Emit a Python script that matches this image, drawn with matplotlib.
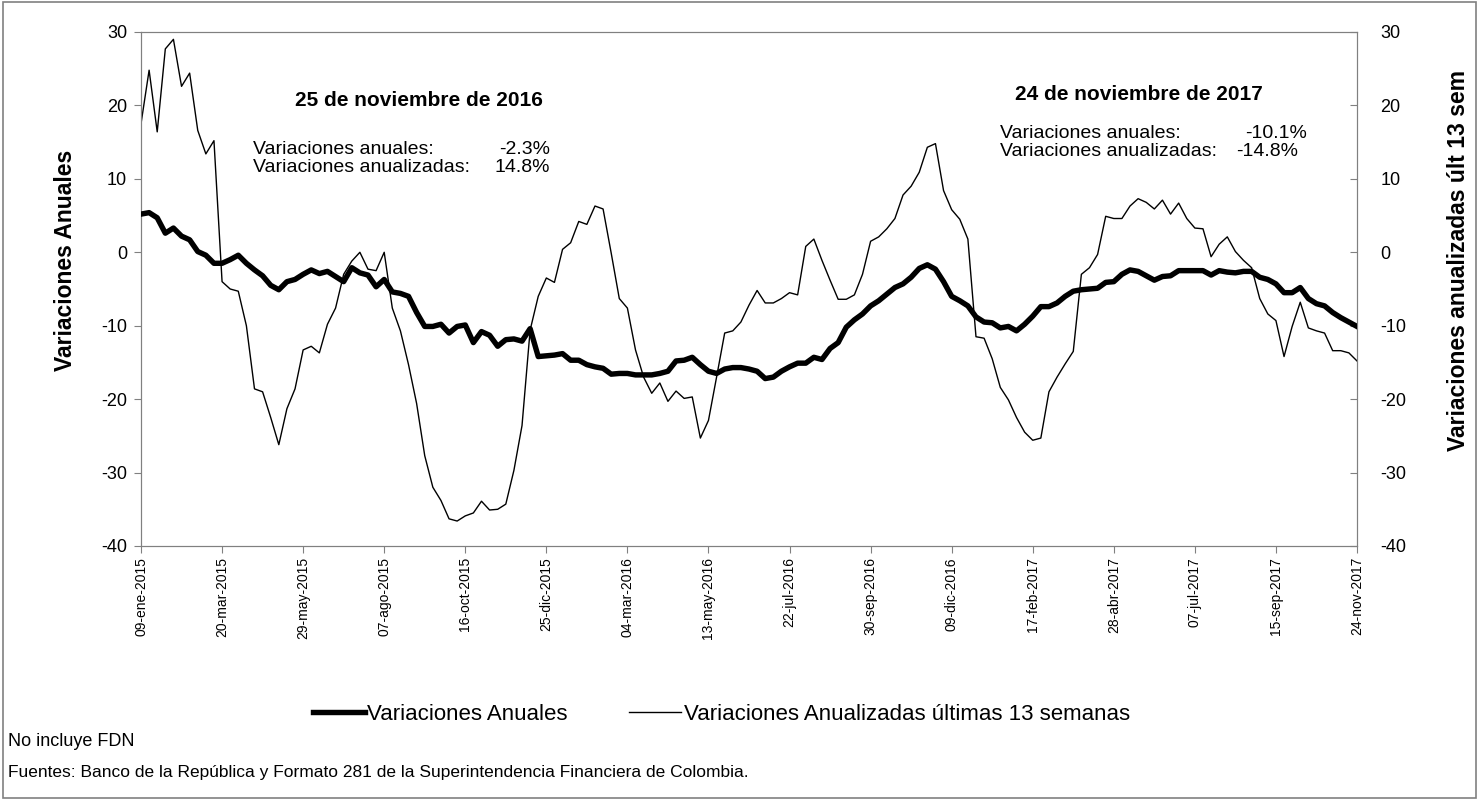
import pandas as pd
import numpy as np
import matplotlib
matplotlib.use('Agg')
import matplotlib.pyplot as plt
from matplotlib.patches import Rectangle

# Series semanales, 09-ene-2015 a 24-nov-2017 (151 semanas)
fecha_inicio = '2015-01-09'

var_anuales = [
    5.2, 5.4, 4.7, 2.6, 3.3, 2.2, 1.7, 0.1, -0.4, -1.5,
    -1.5, -1.0, -0.4, -1.5, -2.4, -3.2, -4.5, -5.1, -4.0, -3.7,
    -3.0, -2.4, -2.9, -2.6, -3.3, -4.0, -2.1, -2.8, -3.1, -4.7,
    -3.7, -5.4, -5.6, -6.0, -8.2, -10.1, -10.1, -9.8, -11.0, -10.1,
    -9.9, -12.3, -10.8, -11.3, -12.8, -11.9, -11.8, -12.1, -10.4, -14.2,
    -14.1, -14.0, -13.8, -14.7, -14.7, -15.3, -15.6, -15.8, -16.6, -16.5,
    -16.5, -16.7, -16.7, -16.7, -16.5, -16.2, -14.8, -14.7, -14.3, -15.3,
    -16.2, -16.5, -15.9, -15.7, -15.7, -15.9, -16.2, -17.2, -17.0, -16.2,
    -15.6, -15.1, -15.1, -14.3, -14.6, -13.1, -12.3, -10.2, -9.2, -8.4,
    -7.3, -6.6, -5.7, -4.8, -4.3, -3.4, -2.2, -1.7, -2.3, -4.0,
    -6.0, -6.6, -7.3, -8.8, -9.5, -9.6, -10.3, -10.1, -10.7, -9.8,
    -8.7, -7.4, -7.4, -6.9, -6.0, -5.3, -5.1, -5.0, -4.9, -4.1,
    -4.0, -3.0, -2.4, -2.6, -3.2, -3.8, -3.3, -3.2, -2.5, -2.5,
    -2.5, -2.5, -3.1, -2.5, -2.7, -2.8, -2.6, -2.6, -3.4, -3.7,
    -4.3, -5.5, -5.5, -4.8, -6.3, -7.0, -7.3, -8.2, -8.9, -9.5,
    -10.1,
]

var_anualizadas = [
    17.5, 24.8, 16.4, 27.7, 29.0, 22.6, 24.4, 16.6, 13.4, 15.2,
    -4.0, -5.0, -5.3, -10.0, -18.6, -19.0, -22.5, -26.2, -21.3, -18.6,
    -13.3, -12.8, -13.7, -9.8, -7.6, -3.0, -1.2, 0.0, -2.3, -2.5,
    0.0, -7.6, -10.7, -15.3, -20.6, -27.7, -32.0, -33.8, -36.3, -36.6,
    -35.9, -35.5, -33.9, -35.1, -35.0, -34.3, -29.7, -23.6, -10.6, -6.0,
    -3.5, -4.1, 0.4, 1.3, 4.2, 3.8, 6.3, 5.9, -0.1, -6.3,
    -7.6, -13.3, -17.0, -19.2, -17.8, -20.3, -18.9, -19.9, -19.7, -25.3,
    -22.9, -17.0, -11.0, -10.7, -9.5, -7.2, -5.2, -6.9, -6.9, -6.3,
    -5.5, -5.8, 0.8, 1.8, -1.1, -3.8, -6.4, -6.4, -5.8, -3.0,
    1.5, 2.1, 3.2, 4.6, 7.8, 9.0, 10.9, 14.3, 14.8, 8.4,
    5.8, 4.5, 1.8, -11.5, -11.7, -14.5, -18.4, -20.1, -22.5, -24.5,
    -25.6, -25.3, -19.0, -17.0, -15.2, -13.5, -3.0, -2.1, -0.3, 4.9,
    4.6, 4.6, 6.3, 7.3, 6.8, 5.9, 7.1, 5.2, 6.7, 4.6,
    3.3, 3.2, -0.6, 1.1, 2.1, 0.1, -1.1, -2.1, -6.3, -8.4,
    -9.3, -14.2, -10.1, -6.8, -10.3, -10.7, -11.0, -13.4, -13.4, -13.7,
    -14.8,
]

etiquetas_x = ['09-ene-2015', '20-mar-2015', '29-may-2015', '07-ago-2015',
               '16-oct-2015', '25-dic-2015', '04-mar-2016', '13-may-2016',
               '22-jul-2016', '30-sep-2016', '09-dic-2016', '17-feb-2017',
               '28-abr-2017', '07-jul-2017', '15-sep-2017', '24-nov-2017']

fechas = pd.date_range(fecha_inicio, periods=len(var_anuales), freq='7D')
ticks_x = fechas[::10]

gris = '#808080'
plt.rcParams['font.family'] = ['Liberation Sans', 'DejaVu Sans']
plt.rcParams['axes.unicode_minus'] = False
narrow = ['Liberation Sans Narrow', 'Liberation Sans', 'DejaVu Sans']

W, H = 1479, 800


def fx(px):
    return px / W


def fy(py):
    return 1 - py / H


fig = plt.figure(figsize=(14.79, 8), dpi=100)
ax = fig.add_axes([fx(141), fy(546), (1357 - 141) / W, (546 - 32) / H])
ax2 = ax.twinx()

l1, = ax.plot(fechas, var_anuales, color='black', lw=3.9, zorder=3)
l2, = ax2.plot(fechas, var_anualizadas, color='black', lw=1.0, zorder=2)

for a in (ax, ax2):
    a.set_ylim(-40, 30)
    a.set_yticks(np.arange(-40, 31, 10))
    a.set_xlim(fechas[0], fechas[-1])
    for s in a.spines.values():
        s.set_color(gris)
ax.set_zorder(ax2.get_zorder() + 1)
ax.patch.set_visible(False)

ax.set_xticks(ticks_x)
ax.set_xticklabels(etiquetas_x, rotation=90, fontsize=10)
ax.tick_params(axis='x', direction='out', length=5, color=gris, pad=3)
ax.tick_params(axis='y', direction='out', length=5, color=gris, labelsize=13, pad=5)
ax2.tick_params(axis='y', direction='in', length=5, color=gris, labelsize=13, pad=17)

# titulos de ejes (centrados un poco por encima del centro del area)
ax.set_ylabel('Variaciones Anuales', fontsize=16.5, fontweight='bold')
ax.yaxis.set_label_coords(-64 / 1216, 0.556)
ax2.set_ylabel('Variaciones anualizadas últ 13 sem', fontsize=16.5, fontweight='bold',
               rotation=90)
ax2.yaxis.set_label_coords(1 + 90 / 1216, 0.556)

# recuadros de texto
fig.text(fx(419), fy(100), '25 de noviembre de 2016', fontsize=15,
         fontweight='bold', ha='center', va='center')
fig.text(fx(253), fy(150), 'Variaciones anuales:', fontsize=14, va='center')
fig.text(fx(550), fy(150), '-2.3%', fontsize=14, va='center', ha='right')
fig.text(fx(253), fy(168), 'Variaciones anualizadas:', fontsize=14, va='center')
fig.text(fx(550), fy(168), '14.8%', fontsize=14, va='center', ha='right')

fig.text(fx(1139), fy(95), '24 de noviembre de 2017', fontsize=15,
         fontweight='bold', ha='center', va='center')
fig.text(fx(1000), fy(133), 'Variaciones anuales:', fontsize=14, va='center')
fig.text(fx(1307), fy(133), '-10.1%', fontsize=14, va='center', ha='right')
fig.text(fx(1000), fy(151), 'Variaciones anualizadas:', fontsize=14, va='center')
fig.text(fx(1298), fy(151), '-14.8%', fontsize=14, va='center', ha='right')

fig.legend([l1, l2], ['Variaciones Anuales', 'Variaciones Anualizadas últimas 13 semanas'],
           loc='center left', bbox_to_anchor=(fx(313), fy(714)), ncol=2,
           frameon=False, borderpad=0, borderaxespad=0,
           handlelength=2.35, handletextpad=0.1, columnspacing=2.75,
           prop={'family': narrow, 'size': 16})

fig.text(fx(8), fy(742), 'No incluye FDN', fontsize=13, family=narrow, va='center')
fig.text(fx(8), fy(772),
         'Fuentes: Banco de la República y Formato 281 de la Superintendencia '
         'Financiera de Colombia.', fontsize=12.5, family=narrow, va='center')

fig.patches.append(Rectangle((0.002, 0.003), 0.996, 0.994, transform=fig.transFigure,
                             fill=False, edgecolor=gris, lw=1.2))

fig.savefig('out.png', dpi=100)
